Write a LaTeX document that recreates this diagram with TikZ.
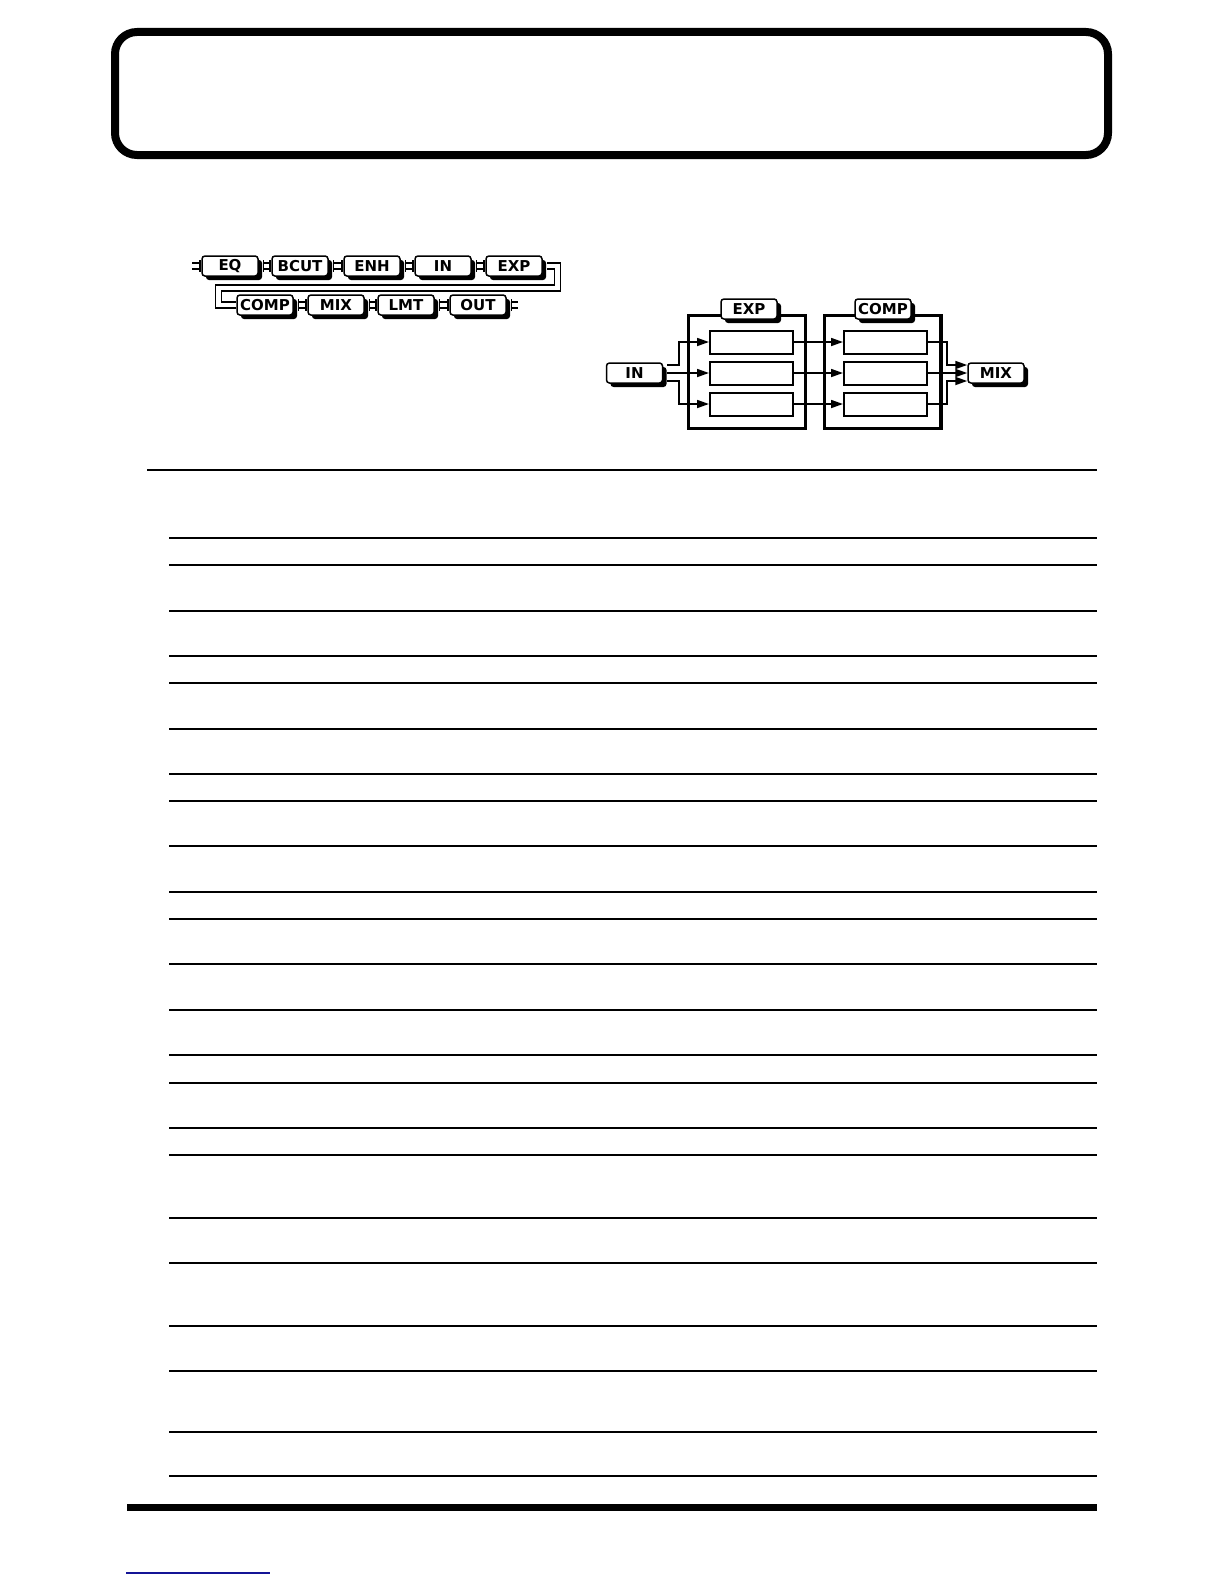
\documentclass[tikz,border=0pt]{standalone}
\usepackage{fontspec}
\setmainfont{DejaVu Sans}
\usetikzlibrary{arrows.meta,shadows}
\definecolor{linkblue}{RGB}{20,20,150}

\begin{document}
\begin{tikzpicture}[x=0.5pt,y=-0.5pt,line width=0.7pt,
    tag/.style={draw,fill=white,rounded corners=1.5pt,line width=0.75pt,minimum width=28pt,minimum height=10pt,inner sep=0pt,
        font=\bfseries\fontsize{7.5}{8}\selectfont,drop shadow={shadow xshift=2pt,shadow yshift=-2pt,opacity=1,fill=black}},
    cell/.style={draw,line width=1pt,minimum width=41.5pt,minimum height=11.5pt,inner sep=0pt},
    unit/.style={draw,line width=1.6pt,minimum width=58.4pt,minimum height=56.4pt,inner sep=0pt},
    cable/.style={double,double distance=2.3pt,line width=0.7pt},
    arr/.style={-{Triangle[length=6pt,width=4pt]},line width=0.85pt}]

    \useasboundingbox (0,0) rectangle (1224,1584);

    \draw[line width=4pt,rounded corners=11pt] (115,32) rectangle (1108,155);

        \begin{scope}[every node/.style={tag}]
        \node(eq) at (230,266) {EQ};
        \node(bcut) at (300,266) {BCUT};
        \node(enh) at (372,266) {ENH};
        \node(ina) at (443,266) {IN};
        \node(expa) at (514,266) {EXP};
        \node(compa) at (265,305) {COMP};
        \node(mixa) at (336,305) {MIX};
        \node(lmt) at (406,305) {LMT};
        \node(out) at (478,305) {OUT};
        \end{scope}

        \coordinate (chainin) at (192,266);
        \coordinate (chainout) at (518,305);
        \draw[cable] (chainin) -- (eq.west);
        \draw ([xshift=-0.6pt,yshift=3pt]eq.west) -- ([xshift=-0.6pt,yshift=-3pt]eq.west);
        \foreach \a/\b in {eq/bcut,bcut/enh,enh/ina,ina/expa,compa/mixa,mixa/lmt,lmt/out} {
            \draw[cable] ([xshift=2pt]\a.east) -- (\b.west);
            \draw ([xshift=2.3pt,yshift=3pt]\a.east) -- ([xshift=2.3pt,yshift=-3pt]\a.east);
            \draw ([xshift=-0.6pt,yshift=3pt]\b.west) -- ([xshift=-0.6pt,yshift=-3pt]\b.west);
        }
        \draw[cable] ([xshift=2pt]out.east) -- (chainout);
        \draw ([xshift=2.3pt,yshift=3pt]out.east) -- ([xshift=2.3pt,yshift=-3pt]out.east);
        \draw[cable] ([xshift=2pt]expa.east) -| ++(11,22) -| ++(-339,17) -- (compa.west);

        \node[unit](expu) at (747,372) {};
        \node[unit](compu) at (882.5,372) {};
        \begin{scope}[every node/.style={cell}]
        \node(e1) at (751.5,342) {};
        \node(e2) at (751.5,373) {};
        \node(e3) at (751.5,404) {};
        \node(c1) at (885.5,342) {};
        \node(c2) at (885.5,373) {};
        \node(c3) at (885.5,404) {};
        \end{scope}
        \begin{scope}[every node/.style={tag}]
        \node(expb) at (749,309) {EXP};
        \node(compb) at (883,309) {COMP};
        \node(inb) at (634.5,373) {IN};
        \node(mixb) at (996,373) {MIX};
        \end{scope}

        \draw[arr] ([xshift=2pt,yshift=4pt]inb.east) -- ++(12,0) |- (e1.west);
        \draw[arr] ([xshift=2pt]inb.east) -- (e2.west);
        \draw[arr] ([xshift=2pt,yshift=-4pt]inb.east) -- ++(12,0) |- (e3.west);
        \draw[arr] (e1) -- (c1);
        \draw[arr] (e2) -- (c2);
        \draw[arr] (e3) -- (c3);
        \draw[arr] (c1.east) -- ++(19,0) |- ([yshift=4pt]mixb.west);
        \draw[arr] (c2.east) -- (mixb.west);
        \draw[arr] (c3.east) -- ++(19,0) |- ([yshift=-4pt]mixb.west);

    \draw (147,470) -- (1097,470);
    \foreach \y in {538,565,611,656,683,729,774,801,846,892,919,964,1010,1055,1083,1128,1155,1218,1263,1326,1371,1432,1476}
        \draw (169,\y) -- (1097,\y);
    \fill (127,1504) rectangle (1097,1511);
    \draw[linkblue,line width=0.8pt] (126,1573) -- (270,1573);

\end{tikzpicture}
\end{document}
